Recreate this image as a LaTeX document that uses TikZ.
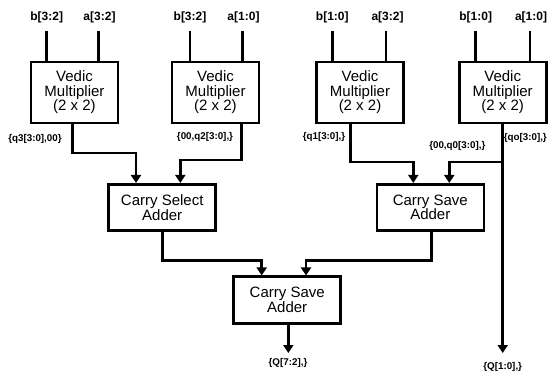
\documentclass[tikz,border=0pt]{standalone}
\usepackage{fontspec}
\setmainfont{Liberation Sans}
\usetikzlibrary{arrows.meta}
\begin{document}
\begin{tikzpicture}[x=1pt,y=-1pt,
 blk/.style={draw, line width=2.6pt, align=center, font=\fontsize{15}{14.5}\selectfont, inner sep=0pt},
 mul/.style={blk, minimum width=87pt, minimum height=61pt},
 add/.style={blk, minimum width=107pt, minimum height=46.5pt},
 wire/.style={line width=2.6pt},
 arr/.style={wire, -{Triangle[width=10pt,length=8pt]}},
 inlab/.style={font=\bfseries\fontsize{12}{12}\selectfont, inner sep=0pt},
 sig/.style={font=\bfseries\fontsize{9.8}{9.8}\selectfont, inner sep=0pt}]
\useasboundingbox (0,0) rectangle (548,373);

% multipliers
\node[mul] (m1) at (74.5,92.5) {Vedic\\Multiplier\\(2 x 2)};
\node[mul] (m2) at (215.5,92.5) {Vedic\\Multiplier\\(2 x 2)};
\node[mul] (m3) at (360,92.5) {Vedic\\Multiplier\\(2 x 2)};
\node[mul] (m4) at (502.7,92.5) {Vedic\\Multiplier\\(2 x 2)};

% adders
\node[add] (csel) at (162.2,207.5) {Carry Select\\Adder};
\node[add] (csa1) at (430.3,207.5) {Carry Save\\Adder};
\node[add] (csa2) at (287.2,300) {Carry Save\\Adder};

% input labels
\node[inlab] (b1) at (46.7,17) {b[3:2]};
\node[inlab] (a1) at (99.5,17) {a[3:2]};
\node[inlab] (b2) at (190,17) {b[3:2]};
\node[inlab] (a2) at (243.5,17) {a[1:0]};
\node[inlab] (b3) at (332.3,17) {b[1:0]};
\node[inlab] (a3) at (387.5,17) {a[3:2]};
\node[inlab] (b4) at (475.7,17) {b[1:0]};
\node[inlab] (a4) at (531,17) {a[1:0]};

% input wires
\foreach \l/\m/\x in {b1/m1/46.7, a1/m1/98.3, b2/m2/190, a2/m2/242.7, b3/m3/332.3, a3/m3/386, b4/m4/475.7, a4/m4/530}
  \draw[wire] (\x,30.7) -- (\x,0 |- \m.north);

% signal labels
\node[sig] (q3) at (35,139) {\{q3[3:0],00\}};
\node[sig] (q2) at (205,137) {\{00,q2[3:0],\}};
\node[sig] (q1) at (324,137) {\{q1[3:0],\}};
\node[sig] (q0) at (457.3,146) {\{00,q0[3:0],\}};
\node[sig, anchor=east] (qo) at (547,137.5) {\{qo[3:0],\}};
\node[sig] (Q72) at (288,363) {\{Q[7:2],\}};
\node[sig] (Q10) at (502.7,367) {\{Q[1:0],\}};

% connectors multipliers -> adders
\draw[arr] ([xshift=-1.8pt]m1.south) |- (136,153) -- ([xshift=-26.2pt]csel.north);
\draw[arr] ([xshift=26.2pt]m2.south) |- (180.3,160) -- ([xshift=18.1pt]csel.north);
\draw[arr] ([xshift=-9.3pt]m3.south) |- (413.3,162) -- ([xshift=-17pt]csa1.north);
\coordinate (br) at (502.7,162);
\draw[arr] (br) -| ([xshift=19pt]csa1.north);
\coordinate (e10) at (502.7,353);
\draw[arr] (m4.south) -- (e10);

% adders -> final adder
\draw[arr] (csel.south) |- (261.7,260.7) -- ([xshift=-25.5pt]csa2.north);
\draw[arr] ([xshift=1.4pt]csa1.south) |- (306,260.7) -- ([xshift=18.8pt]csa2.north);
\coordinate (e72) at (288.3,353);
\draw[arr] ([xshift=1.1pt]csa2.south) -- (e72);
\end{tikzpicture}
\end{document}
